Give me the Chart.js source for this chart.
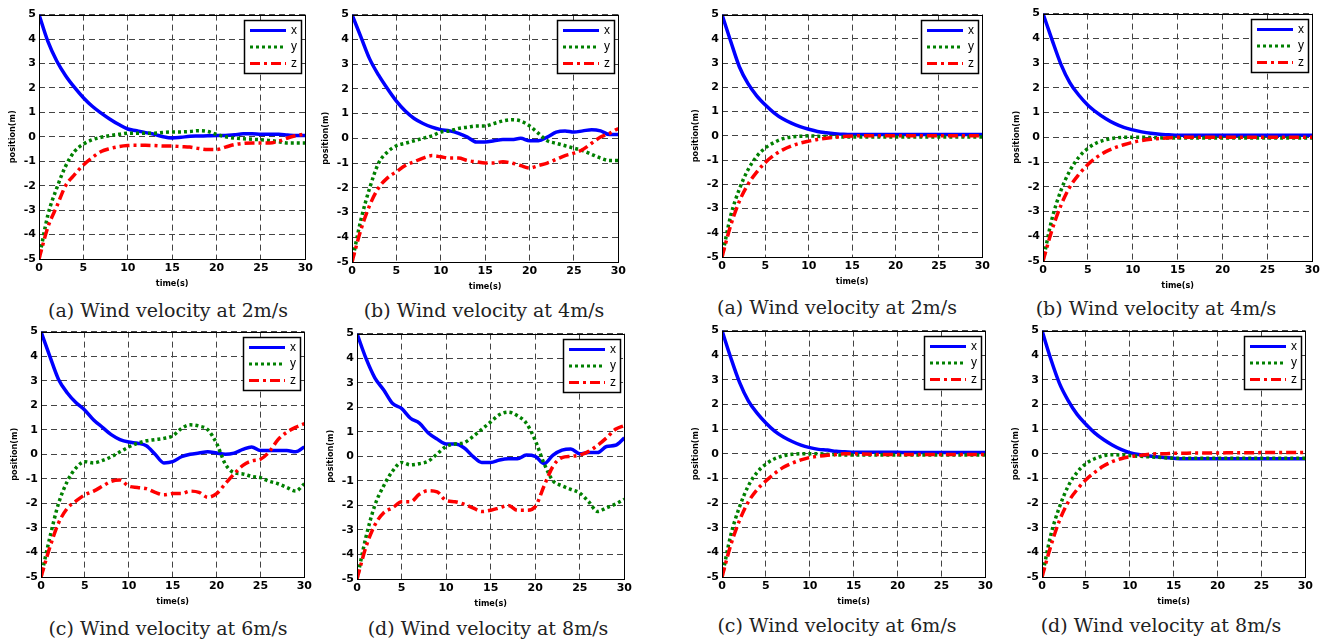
<!DOCTYPE html>
<html>
<head>
<meta charset="utf-8">
<script src="https://cdn.jsdelivr.net/npm/chart.js@4.4.1/dist/chart.umd.min.js"></script>
<style>
  body { margin: 0; background: #fff; }
  #page { position: relative; width: 1331px; height: 641px; overflow: hidden; }
  #page canvas { position: absolute; }
  .cap { position: absolute; font-family: "DejaVu Serif", serif; font-size: 19px; color: #222;
         white-space: nowrap; transform: translate(-50%, -50%); }
</style>
</head>
<body>
<div id="page"></div>
<script>
// temps (s)
const times = [0,1,2,3,4,5,6,7,8,9,10,11,12,13,14,15,16,17,18,19,20,21,22,23,24,25,26,27,28,29,30];

// colonne de gauche
const a1x = [5,3.9,3.1,2.5,2.02,1.6,1.25,0.97,0.72,0.5,0.32,0.25,0.17,0.1,0.0,-0.05,-0.02,0.02,0.03,0.04,0.05,0.05,0.08,0.12,0.12,0.1,0.1,0.1,0.07,0.05,0.05];
const a1y = [-5,-3.2,-2.1,-1.2,-0.6,-0.3,-0.12,-0.02,0.05,0.1,0.15,0.15,0.15,0.15,0.18,0.2,0.2,0.22,0.25,0.22,0.1,0.0,-0.05,-0.08,-0.1,-0.12,-0.15,-0.2,-0.25,-0.25,-0.25];
const a1z = [-5,-3.7,-2.85,-2.0,-1.55,-1.15,-0.85,-0.6,-0.48,-0.4,-0.36,-0.35,-0.35,-0.36,-0.38,-0.38,-0.4,-0.42,-0.48,-0.52,-0.52,-0.42,-0.32,-0.27,-0.25,-0.25,-0.25,-0.18,-0.05,0.05,0.12];

const b1x = [5,4.1,3.2,2.55,2.0,1.5,1.1,0.8,0.6,0.45,0.35,0.3,0.2,0.05,-0.15,-0.15,-0.1,-0.05,-0.05,0.0,-0.1,-0.1,0.05,0.25,0.3,0.25,0.3,0.35,0.3,0.15,0.15];
const b1y = [-5,-3.3,-2.0,-1.0,-0.55,-0.3,-0.2,-0.1,0.0,0.1,0.25,0.3,0.4,0.45,0.5,0.5,0.6,0.7,0.75,0.7,0.5,0.2,-0.1,-0.2,-0.3,-0.4,-0.5,-0.65,-0.8,-0.9,-0.9];
const b1z = [-5,-3.7,-2.7,-2.0,-1.6,-1.35,-1.1,-0.95,-0.8,-0.7,-0.75,-0.8,-0.8,-0.9,-0.95,-1.0,-1.0,-0.95,-1.0,-1.1,-1.2,-1.1,-1.0,-0.85,-0.7,-0.6,-0.45,-0.2,0.05,0.2,0.4];

const c1x = [5,4.0,3.05,2.5,2.1,1.8,1.4,1.1,0.8,0.6,0.5,0.45,0.35,0.0,-0.35,-0.3,-0.1,0.0,0.05,0.1,0.05,0.0,0.05,0.2,0.3,0.15,0.15,0.15,0.15,0.1,0.3];
const c1y = [-5,-3.4,-2.0,-1.1,-0.55,-0.3,-0.35,-0.25,-0.1,0.1,0.3,0.45,0.55,0.6,0.65,0.75,1.05,1.2,1.15,1.0,0.45,-0.4,-0.75,-0.8,-0.9,-0.95,-1.1,-1.2,-1.35,-1.5,-1.2];
const c1z = [-5,-3.8,-2.8,-2.2,-1.9,-1.65,-1.5,-1.3,-1.1,-1.05,-1.3,-1.35,-1.4,-1.55,-1.65,-1.6,-1.6,-1.5,-1.55,-1.75,-1.6,-1.2,-0.8,-0.45,-0.27,-0.2,0.1,0.6,0.9,1.1,1.25];

const d1x = [5,4.0,3.2,2.7,2.15,1.95,1.55,1.35,0.95,0.7,0.5,0.5,0.35,0.0,-0.25,-0.25,-0.15,-0.1,-0.1,0.05,0.0,-0.3,0.05,0.25,0.3,0.1,0.15,0.15,0.4,0.45,0.75];
const d1y = [-5,-3.3,-2.0,-1.2,-0.6,-0.25,-0.35,-0.3,-0.2,0.1,0.4,0.5,0.55,0.8,1.1,1.4,1.7,1.8,1.65,1.35,0.65,-0.3,-1.0,-1.2,-1.35,-1.5,-1.85,-2.25,-2.1,-1.95,-1.75];
const d1z = [-5,-3.7,-2.8,-2.3,-2.1,-1.85,-1.85,-1.55,-1.4,-1.45,-1.8,-1.85,-1.95,-2.1,-2.25,-2.2,-2.1,-2.0,-2.2,-2.2,-2.05,-1.2,-0.4,-0.05,0.0,0.05,0.2,0.45,0.75,1.1,1.25];

// colonne de droite
const a2x = [5,3.9,2.85,2.15,1.65,1.27,0.95,0.7,0.52,0.38,0.27,0.18,0.13,0.09,0.06,0.05,0.05,0.05,0.05,0.05,0.05,0.05,0.05,0.05,0.05,0.05,0.05,0.05,0.05,0.05,0.05];
const a2y = [-5,-3.3,-2.2,-1.4,-0.85,-0.5,-0.28,-0.12,-0.05,-0.02,0.0,-0.02,-0.03,-0.04,-0.05,-0.05,-0.05,-0.05,-0.05,-0.05,-0.05,-0.05,-0.05,-0.05,-0.05,-0.05,-0.05,-0.05,-0.05,-0.05,-0.05];
const a2z = [-5,-3.7,-2.7,-2.0,-1.5,-1.1,-0.8,-0.58,-0.42,-0.3,-0.22,-0.15,-0.1,-0.06,-0.03,-0.01,0.0,0.0,0.0,0.0,0.0,0.0,0.0,0.0,0.0,0.0,0.0,0.0,0.0,0.0,0.0];

const b2x = [5,3.95,2.95,2.2,1.7,1.3,1.0,0.75,0.55,0.4,0.3,0.22,0.16,0.12,0.1,0.08,0.08,0.08,0.08,0.08,0.08,0.08,0.08,0.08,0.08,0.08,0.08,0.08,0.08,0.08,0.08];
const b2y = [-5,-3.3,-2.15,-1.35,-0.8,-0.45,-0.22,-0.1,-0.03,0.0,0.0,0.0,-0.01,-0.02,-0.03,-0.03,-0.03,-0.03,-0.03,-0.03,-0.03,-0.03,-0.03,-0.03,-0.03,-0.03,-0.03,-0.03,-0.03,-0.03,-0.03];
const b2z = [-5,-3.75,-2.75,-2.0,-1.5,-1.1,-0.8,-0.58,-0.42,-0.3,-0.2,-0.13,-0.08,-0.05,-0.02,0.0,0.0,0.0,0.0,0.0,0.0,0.0,0.0,0.0,0.0,0.0,0.0,0.0,0.0,0.0,0.0];

const c2x = [5,3.9,2.9,2.15,1.65,1.25,0.92,0.68,0.5,0.35,0.25,0.18,0.15,0.1,0.08,0.06,0.06,0.06,0.06,0.06,0.06,0.05,0.05,0.05,0.05,0.05,0.05,0.05,0.05,0.05,0.05];
const c2y = [-5,-3.3,-2.15,-1.3,-0.75,-0.42,-0.2,-0.08,-0.02,0.0,0.0,0.0,-0.02,-0.04,-0.05,-0.05,-0.05,-0.05,-0.05,-0.05,-0.05,-0.05,-0.05,-0.05,-0.05,-0.05,-0.05,-0.05,-0.05,-0.05,-0.05];
const c2z = [-5,-3.7,-2.7,-1.95,-1.45,-1.1,-0.8,-0.55,-0.38,-0.25,-0.15,-0.1,-0.06,-0.03,0.0,0.0,-0.01,-0.02,-0.03,-0.03,-0.03,-0.03,-0.03,-0.03,-0.03,-0.03,-0.03,-0.03,-0.03,-0.03,-0.03];

const d2x = [5,3.85,2.85,2.15,1.6,1.2,0.85,0.58,0.36,0.18,0.05,-0.03,-0.08,-0.12,-0.15,-0.18,-0.2,-0.2,-0.2,-0.2,-0.2,-0.2,-0.2,-0.2,-0.2,-0.2,-0.2,-0.2,-0.2,-0.2,-0.2];
const d2y = [-5,-3.3,-2.15,-1.3,-0.75,-0.4,-0.2,-0.08,-0.04,-0.05,-0.07,-0.1,-0.12,-0.14,-0.16,-0.18,-0.18,-0.18,-0.18,-0.18,-0.18,-0.18,-0.18,-0.18,-0.18,-0.18,-0.18,-0.18,-0.18,-0.18,-0.18];
const d2z = [-5,-3.75,-2.7,-1.95,-1.45,-1.05,-0.75,-0.5,-0.32,-0.2,-0.12,-0.07,-0.03,0.0,0.0,0.02,0.02,0.03,0.03,0.03,0.03,0.04,0.04,0.04,0.04,0.05,0.05,0.05,0.05,0.05,0.05];

const seriesNames = ['x', 'y', 'z'];
const yTicks = { min: -5, max: 5, step: 1 };
const xTicks = { min: 0, max: 30, step: 5 };
const captions = [
  '(a) Wind velocity at 2m/s', '(b) Wind velocity at 4m/s',
  '(c) Wind velocity at 6m/s', '(d) Wind velocity at 8m/s',
  '(a) Wind velocity at 2m/s', '(b) Wind velocity at 4m/s',
  '(c) Wind velocity at 6m/s', '(d) Wind velocity at 8m/s'
];
const panelData = [
  [a1x, a1y, a1z], [b1x, b1y, b1z], [c1x, c1y, c1z], [d1x, d1y, d1z],
  [a2x, a2y, a2z], [b2x, b2y, b2z], [c2x, c2y, c2z], [d2x, d2y, d2z]
];

// mise en page : zone de tracé [gauche, haut, droite, bas] et centre des légendes
const plotBoxes = [
  [39, 13, 306, 259], [352, 13, 619, 262], [41, 330, 305, 577], [357, 332, 625, 579],
  [722, 13, 983, 257], [1043, 12, 1313, 261], [722, 329, 986, 577], [1042, 329, 1306, 577]
];
const capPos = [
  [168, 310], [484, 310], [168, 628], [488, 628],
  [837, 307], [1156, 308], [837, 625], [1161, 625]
];

const styles = [
  { color: '#0000ff', dash: [] },
  { color: '#008000', dash: [3, 3] },
  { color: '#ff0000', dash: [10, 4, 3, 4] }
];

const Y_W = 32, X_H = 32, PAD_T = 8, PAD_R = 10;
const tickFont = { family: '"DejaVu Sans", sans-serif', size: 11, weight: 'bold' };
const titleFont = { family: '"DejaVu Sans Condensed", "DejaVu Sans", sans-serif', size: 9, weight: 'bold' };

// cadre + légende dessinés dans la zone de tracé
const boxPlugin = {
  id: 'boxLegend',
  afterDatasetsDraw(chart) {
    const { ctx, chartArea: a } = chart;
    ctx.save();
    ctx.strokeStyle = '#000';
    ctx.lineWidth = 1;
    ctx.setLineDash([]);
    ctx.strokeRect(Math.round(a.left) + 0.5, Math.round(a.top) + 0.5,
      Math.round(a.right - a.left), Math.round(a.bottom - a.top));

    const w = 57, h = 53;
    const bx = Math.round(a.right) - 4 - w, by = Math.round(a.top) + 5;
    ctx.fillStyle = '#fff';
    ctx.fillRect(bx, by, w, h);
    ctx.lineWidth = 1.5;
    ctx.strokeRect(bx + 0.5, by + 0.5, w, h);
    chart.data.datasets.forEach((ds, i) => {
      const y = by + 10.5 + i * 16.5;
      ctx.beginPath();
      ctx.setLineDash(ds.borderDash);
      ctx.strokeStyle = ds.borderColor;
      ctx.lineWidth = 3;
      ctx.moveTo(bx + 6, y);
      ctx.lineTo(bx + 42, y);
      ctx.stroke();
      ctx.setLineDash([]);
      ctx.fillStyle = '#000';
      ctx.font = '12px Arial, "Liberation Sans", sans-serif';
      ctx.textBaseline = 'middle';
      ctx.fillText(ds.label, bx + 47, y);
    });
    ctx.restore();
  }
};

const page = document.getElementById('page');

panelData.forEach((series, p) => {
  const [l, t, r, b] = plotBoxes[p];
  const canvas = document.createElement('canvas');
  canvas.width = (r - l) + Y_W + PAD_R;
  canvas.height = (b - t) + X_H + PAD_T;
  canvas.style.left = (l - Y_W) + 'px';
  canvas.style.top = (t - PAD_T) + 'px';
  page.appendChild(canvas);

  const cap = document.createElement('div');
  cap.className = 'cap';
  cap.textContent = captions[p];
  cap.style.left = capPos[p][0] + 'px';
  cap.style.top = capPos[p][1] + 'px';
  page.appendChild(cap);

  new Chart(canvas, {
    type: 'line',
    data: {
      datasets: series.map((vals, i) => ({
        label: seriesNames[i],
        data: times.map((tt, k) => ({ x: tt, y: vals[k] })),
        borderColor: styles[i].color,
        borderDash: styles[i].dash,
        borderWidth: 3.5,
        borderCapStyle: 'butt',
        pointRadius: 0,
        cubicInterpolationMode: 'monotone',
        order: 2 - i
      }))
    },
    options: {
      responsive: false,
      animation: false,
      events: [],
      layout: { padding: { top: PAD_T, right: PAD_R, left: 0, bottom: 0 } },
      plugins: { legend: { display: false }, tooltip: { enabled: false } },
      scales: {
        x: {
          type: 'linear', min: xTicks.min, max: xTicks.max,
          ticks: { stepSize: xTicks.step, color: '#000', font: tickFont, padding: 3, maxRotation: 0 },
          grid: { color: '#444', drawTicks: false },
          border: { display: false, dash: [6, 4] },
          title: { display: true, text: 'time(s)', color: '#000', font: titleFont, padding: { top: 0, bottom: 2 } },
          afterFit(s) { s.height = X_H; }
        },
        y: {
          min: yTicks.min, max: yTicks.max,
          ticks: { stepSize: yTicks.step, color: '#000', font: tickFont, padding: 3 },
          grid: { color: '#444', drawTicks: false },
          border: { display: false, dash: [6, 4] },
          title: { display: true, text: 'position(m)', color: '#000', font: titleFont, padding: 0 },
          afterFit(s) { s.width = Y_W; }
        }
      }
    },
    plugins: [boxPlugin]
  });
});
</script>
</body>
</html>
